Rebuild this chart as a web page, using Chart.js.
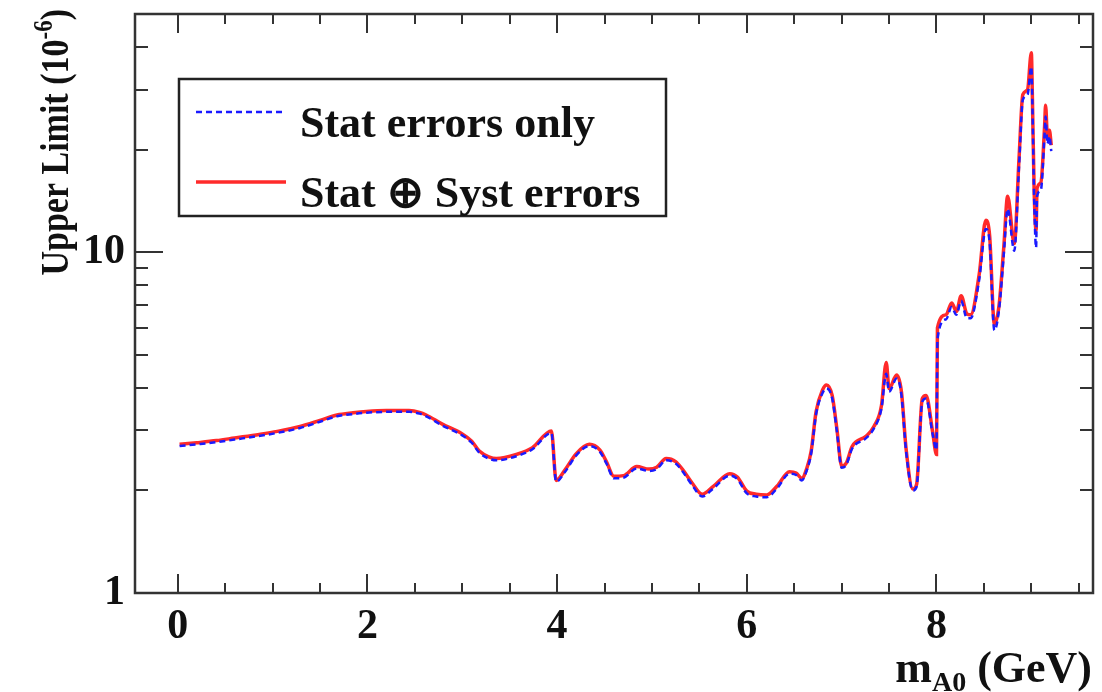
<!DOCTYPE html>
<html>
<head>
<meta charset="utf-8">
<script src="https://cdn.jsdelivr.net/npm/chart.js@4/dist/chart.umd.min.js"></script>
<style>
html,body{margin:0;padding:0;background:#fff;}
#wrap{width:1102px;height:692px;}
</style>
</head>
<body>
<div id="wrap"><canvas id="c" width="1102" height="692"></canvas></div>
<script>
// ---- data ----
const massGeV = [0.02,0.2,0.41,0.6,0.86,1.05,1.29,1.5,1.68,1.85,1.99,2.2,2.44,2.55,2.62,2.79,3.0,3.1,3.18,3.28,3.36,3.57,3.74,3.94,3.99,4.08,4.2,4.34,4.45,4.52,4.6,4.7,4.84,4.97,5.05,5.15,5.25,5.32,5.42,5.53,5.65,5.82,5.9,6.0,6.1,6.21,6.32,6.45,6.52,6.58,6.63,6.68,6.73,6.8,6.84,6.9,6.95,7.0,7.05,7.11,7.26,7.34,7.42,7.47,7.5,7.58,7.63,7.68,7.75,7.79,7.85,7.89,7.96,8.0,8.01,8.1,8.16,8.21,8.26,8.32,8.36,8.45,8.52,8.56,8.61,8.66,8.71,8.75,8.82,8.87,8.91,8.96,9.0,9.01,9.03,9.05,9.06,9.1,9.14,9.15,9.17,9.19,9.21];
const statOnly = [2.70,2.73,2.77,2.82,2.89,2.95,3.05,3.18,3.30,3.35,3.38,3.40,3.40,3.36,3.30,3.10,2.90,2.76,2.58,2.48,2.45,2.52,2.64,2.95,2.12,2.26,2.53,2.70,2.60,2.40,2.17,2.18,2.32,2.28,2.31,2.45,2.40,2.28,2.08,1.92,2.03,2.21,2.16,1.96,1.92,1.91,2.03,2.24,2.22,2.14,2.28,2.58,3.34,3.87,3.98,3.73,2.98,2.33,2.38,2.65,2.85,3.04,3.48,4.40,3.90,4.26,3.82,2.60,2.00,2.05,3.64,3.72,2.92,2.63,5.55,6.35,6.90,6.55,7.20,6.40,6.40,8.30,11.7,10.7,5.90,6.80,9.90,13.4,10.1,17.8,28.0,29.0,35.0,28.0,14.2,10.3,14.6,15.2,22.4,25.0,20.8,21.9,19.8];
const statSyst = [2.73,2.76,2.80,2.85,2.92,2.98,3.08,3.21,3.33,3.38,3.41,3.43,3.43,3.39,3.33,3.13,2.93,2.79,2.61,2.51,2.48,2.55,2.67,2.99,2.14,2.29,2.56,2.73,2.63,2.43,2.20,2.21,2.35,2.31,2.34,2.48,2.43,2.31,2.11,1.95,2.06,2.24,2.19,1.99,1.95,1.94,2.06,2.27,2.25,2.17,2.31,2.62,3.40,3.95,4.08,3.80,3.03,2.36,2.41,2.69,2.89,3.08,3.55,4.75,3.98,4.36,3.90,2.64,2.02,2.08,3.72,3.80,2.96,2.55,6.00,6.55,7.10,6.70,7.45,6.60,6.55,8.60,12.4,11.2,6.15,7.00,10.4,14.6,10.6,18.8,29.0,30.0,38.5,29.5,15.0,11.6,15.4,16.0,23.5,27.0,21.8,22.8,20.6];
const xTickLabels = [0,2,4,6,8];
const yTickLabels = [1,10];
const legendLabels = ['Stat errors only','Stat \u2295 Syst errors'];

const FONT = '"Liberation Serif", "Times New Roman", serif';
const FRAME = '#333333';

const pts = (ys) => massGeV.map((m,i)=>({x:m,y:ys[i]}));

const framePlugin = {
  id:'frame',
  afterDatasetsDraw(chart){
    const ctx = chart.ctx, a = chart.chartArea;
    const xs = chart.scales.x, ys = chart.scales.y;
    ctx.save();
    ctx.strokeStyle = FRAME; ctx.lineWidth = 2.5;
    ctx.strokeRect(a.left, a.top, a.right-a.left, a.bottom-a.top);
    ctx.lineWidth = 2;
    ctx.beginPath();
    for (let v=0; v<=9.5+1e-9; v+=0.5){
      const px = Math.round(xs.getPixelForValue(v));
      const major = Math.abs(v/2 - Math.round(v/2))<1e-9;
      const L = major ? 19 : 10;
      ctx.moveTo(px, a.bottom); ctx.lineTo(px, a.bottom-L);
      ctx.moveTo(px, a.top); ctx.lineTo(px, a.top+L);
    }
    const yt = [2,3,4,5,6,7,8,9,10,20,30,40];
    yt.forEach(v=>{
      const py = Math.round(ys.getPixelForValue(v));
      const L = (v===10) ? 28 : 13;
      ctx.moveTo(a.left, py); ctx.lineTo(a.left+L, py);
      ctx.moveTo(a.right, py); ctx.lineTo(a.right-L, py);
    });
    ctx.stroke();

    // legend box
    const ds = chart.data.datasets;
    ctx.lineWidth = 2.5; ctx.strokeStyle = '#222';
    ctx.fillStyle = '#fff';
    ctx.fillRect(179,79,487,137);
    ctx.strokeRect(179,79,487,137);
    const rows = [112,182];
    ds.forEach((d,i)=>{
      ctx.save();
      ctx.strokeStyle = d.borderColor; ctx.lineWidth = d.borderWidth;
      ctx.setLineDash(d.borderDash||[]);
      ctx.beginPath(); ctx.moveTo(196, rows[i]); ctx.lineTo(286, rows[i]); ctx.stroke();
      ctx.restore();
      ctx.fillStyle = '#111';
      ctx.font = 'bold 44px ' + FONT;
      ctx.textAlign = 'left'; ctx.textBaseline = 'alphabetic';
      ctx.fillText(d.label, 300, rows[i]+25);
    });

    // y title (rotated)
    ctx.save();
    ctx.fillStyle = '#111';
    const fMain = 'bold 34px ' + FONT, fSup = 'bold 23px ' + FONT;
    const parts = [['Upper Limit (10',fMain,0],['-6',fSup,-13],[')',fMain,0]];
    let W = 0; parts.forEach(p=>{ctx.font=p[1]; W+=ctx.measureText(p[0]).width;});
    ctx.translate(68, 9);
    ctx.rotate(-Math.PI/2);
    ctx.scale(1, 1.2);
    let x0 = -W;
    ctx.textAlign='left'; ctx.textBaseline='alphabetic';
    parts.forEach(p=>{ctx.font=p[1]; ctx.fillText(p[0], x0, p[2]); x0 += ctx.measureText(p[0]).width;});
    ctx.restore();

    // x title
    ctx.save();
    ctx.fillStyle = '#111';
    const xp = [['m','bold 44px '+FONT,0],['A0','bold 28px '+FONT,9],[' (GeV)','bold 44px '+FONT,0]];
    let W2=0; xp.forEach(p=>{ctx.font=p[1]; W2+=ctx.measureText(p[0]).width;});
    let x1 = 1092 - W2;
    ctx.textAlign='left'; ctx.textBaseline='alphabetic';
    xp.forEach(p=>{ctx.font=p[1]; ctx.fillText(p[0], x1, 682+p[2]); x1 += ctx.measureText(p[0]).width;});
    ctx.restore();
    ctx.restore();
  }
};

new Chart(document.getElementById('c'), {
  type:'line',
  data:{
    datasets:[
      {label:legendLabels[0], data:pts(statOnly), borderColor:'#1a1aff', borderWidth:2.5, borderDash:[6,4], pointRadius:0, cubicInterpolationMode:'monotone', fill:false},
      {label:legendLabels[1], data:pts(statSyst), borderColor:'#ff2a2a', borderWidth:3.5, pointRadius:0, cubicInterpolationMode:'monotone', fill:false}
    ]
  },
  options:{
    responsive:false, animation:false,
    layout:{padding:{top:14,right:9,left:0,bottom:0}},
    plugins:{legend:{display:false}, tooltip:{enabled:false}},
    scales:{
      x:{type:'linear', min:-0.45, max:9.65,
         grid:{display:false, drawTicks:false}, border:{display:false},
         afterBuildTicks:(s)=>{ s.ticks = xTickLabels.map(v=>({value:v})); },
         afterFit:(s)=>{ s.height = 99; s.paddingLeft = 0; s.paddingRight = 0; },
         ticks:{padding:9, maxRotation:0, autoSkip:false, color:'#111', font:{family:FONT, size:42, weight:'bold'}, callback:(v)=>String(v)}},
      y:{type:'logarithmic', min:1, max:50,
         grid:{display:false, drawTicks:false}, border:{display:false},
         afterBuildTicks:(s)=>{ s.ticks = yTickLabels.map(v=>({value:v})); },
         afterFit:(s)=>{ s.width = 135; s.paddingTop = 0; s.paddingBottom = 0; },
         ticks:{padding:10, autoSkip:false, color:'#111', font:{family:FONT, size:42, weight:'bold'}, callback:(v)=>String(v)}}
    }
  },
  plugins:[framePlugin]
});
</script>
</body>
</html>
